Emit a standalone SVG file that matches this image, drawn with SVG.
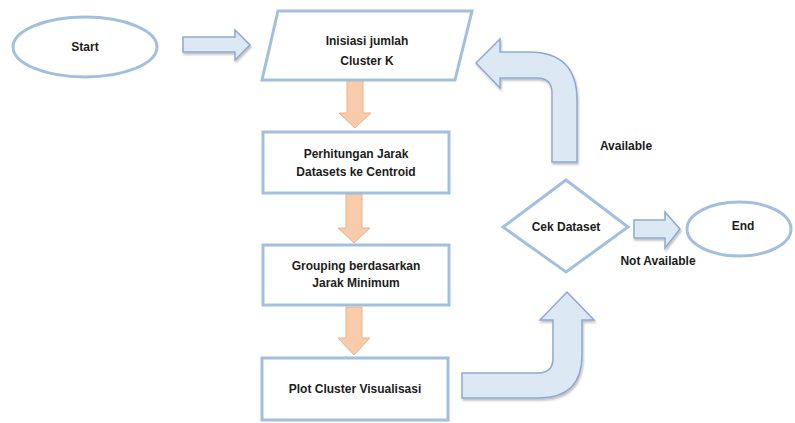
<svg xmlns="http://www.w3.org/2000/svg" width="795" height="423" viewBox="0 0 795 423">
<defs>
<style>
.node{fill:#ffffff;stroke:#a2c0de;stroke-width:3}
.blue{fill:#dde8f5;stroke:#8eaacb;stroke-width:1.5}
.orange{fill:#f8cbab;stroke:#eab38e;stroke-width:1}
.t{font-family:"Liberation Sans",Arial,sans-serif;font-weight:bold;font-size:12px;fill:#1c1c1c;text-anchor:middle;dominant-baseline:middle}
</style>
<filter id="sh" x="-10%" y="-10%" width="120%" height="130%">
<feDropShadow dx="1" dy="2" stdDeviation="1.2" flood-color="#000" flood-opacity="0.25"/>
</filter>
</defs>
<rect width="795" height="423" fill="#ffffff"/>
<g id="connectors">
<path class="blue" filter="url(#sh)" d="M183 37 L235 37 L235 30 L250 45 L235 60 L235 52 L183 52 Z"/>
<path class="orange" d="M347 80 L363 80 L363 113 L371 113 L355 128 L339 113 L347 113 Z"/>
<path class="orange" d="M346 194 L362 194 L362 228 L370 228 L354 243 L338 228 L346 228 Z"/>
<path class="orange" d="M346 307 L362 307 L362 338 L370 338 L354 355 L338 338 L346 338 Z"/>
<path class="blue" filter="url(#sh)" d="M577 162 L577 100 Q577 52 529 52 L500 52 L500 39 L476 63 L500 88 L500 78 L537 78 Q552 78 552 93 L552 162 Z"/>
<path class="blue" filter="url(#sh)" d="M462 373 L538 373 Q553 373 553 358 L553 320 L540 320 L567 292 L594 320 L582 320 L582 355 Q582 398 539 398 L462 398 Z"/>
<path class="blue" filter="url(#sh)" d="M634 220 L665 220 L665 212 L680 229 L665 248 L665 238 L634 238 Z"/>
</g>
<g id="start">
<ellipse class="node" cx="85" cy="47" rx="72" ry="30"/>
<text class="t" x="85" y="48">Start</text>
</g>
<g id="init">
<polygon class="node" points="278,11 472,11 455,80 262,80"/>
<text class="t" x="367" y="42">Inisiasi jumlah</text>
<text class="t" x="367" y="62">Cluster K</text>
</g>
<g id="jarak">
<rect class="node" x="263" y="132" width="186" height="61"/>
<text class="t" x="356" y="155">Perhitungan Jarak</text>
<text class="t" x="356" y="173">Datasets ke Centroid</text>
</g>
<g id="grouping">
<rect class="node" x="263" y="245" width="186" height="60"/>
<text class="t" x="356" y="267">Grouping berdasarkan</text>
<text class="t" x="356" y="284">Jarak Minimum</text>
</g>
<g id="plot">
<rect class="node" x="262" y="358" width="186" height="62"/>
<text class="t" x="355" y="390">Plot Cluster Visualisasi</text>
</g>
<g id="cek">
<polygon class="node" points="566,180 628,227 566,272 503,227"/>
<text class="t" x="566" y="228">Cek Dataset</text>
</g>
<g id="end">
<ellipse class="node" cx="739" cy="229" rx="52" ry="27"/>
<text class="t" x="743" y="227">End</text>
</g>
<g id="labels">
<text class="t" x="626" y="147">Available</text>
<text class="t" x="658" y="262">Not Available</text>
</g>
</svg>
